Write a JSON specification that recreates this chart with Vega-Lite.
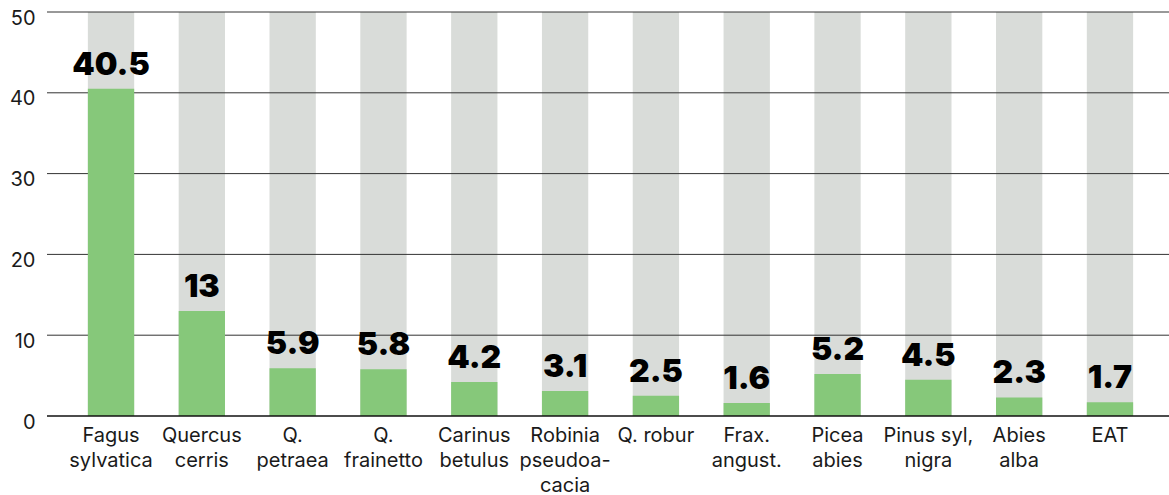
{
  "$schema": "https://vega.github.io/schema/vega-lite/v6.json",
  "autosize": {"type": "none"},
  "padding": {"left": 47, "top": 12, "right": 0, "bottom": 79},
  "width": 1127,
  "height": 404,
  "background": "white",
  "config": {"view": {"stroke": null}, "font": "Inter"},
  "data": {"values": [
    {"species": "Fagus|sylvatica", "value": 40.5, "label": "40.5", "full": 50},
    {"species": "Quercus|cerris", "value": 13, "label": "13", "full": 50},
    {"species": "Q.|petraea", "value": 5.9, "label": "5.9", "full": 50},
    {"species": "Q.|frainetto", "value": 5.8, "label": "5.8", "full": 50},
    {"species": "Carinus|betulus", "value": 4.2, "label": "4.2", "full": 50},
    {"species": "Robinia|pseudoa-|cacia", "value": 3.1, "label": "3.1", "full": 50},
    {"species": "Q. robur", "value": 2.5, "label": "2.5", "full": 50},
    {"species": "Frax.|angust.", "value": 1.6, "label": "1.6", "full": 50},
    {"species": "Picea|abies", "value": 5.2, "label": "5.2", "full": 50},
    {"species": "Pinus syl,|nigra", "value": 4.5, "label": "4.5", "full": 50},
    {"species": "Abies|alba", "value": 2.3, "label": "2.3", "full": 50},
    {"species": "EAT", "value": 1.7, "label": "1.7", "full": 50}
  ]},
  "encoding": {
    "x": {
      "field": "species", "type": "nominal", "sort": null,
      "scale": {"paddingInner": 0.49, "paddingOuter": 0.45},
      "axis": {
        "title": null, "labelAngle": 0, "ticks": false, "domain": false,
        "labelExpr": "split(datum.value, '|')",
        "labelFontSize": 20, "labelColor": "#1a1a1a", "labelFont": "Inter",
        "labelBaseline": "top", "labelPadding": 9, "labelLineHeight": 25
      }
    }
  },
  "layer": [
    {
      "mark": {"type": "bar", "color": "#d9dcd9"},
      "encoding": {
        "y": {
          "field": "full", "type": "quantitative",
          "scale": {"domain": [0, 50], "nice": false},
          "axis": {
            "title": null, "ticks": false, "domain": false, "grid": false,
            "values": [0, 10, 20, 30, 40, 50],
            "labelFontSize": 20, "labelColor": "#1a1a1a", "labelFont": "Inter",
            "labelPadding": 12, "labelBaseline": "top", "labelOffset": -4
          }
        }
      }
    },
    {
      "data": {"values": [{"g": 10}, {"g": 20}, {"g": 30}, {"g": 40}, {"g": 50}]},
      "mark": {"type": "rule", "color": "#333", "strokeWidth": 1},
      "encoding": {"x": null, "y": {"field": "g", "type": "quantitative"}}
    },
    {
      "mark": {"type": "bar", "color": "#86c87a"},
      "encoding": {"y": {"field": "value", "type": "quantitative"}}
    },
    {
      "data": {"values": [{"g": 0}]},
      "mark": {"type": "rule", "color": "#111", "strokeWidth": 1.5},
      "encoding": {"x": null, "y": {"field": "g", "type": "quantitative"}}
    },
    {
      "mark": {"type": "text", "font": "Inter", "fontWeight": 900, "fontSize": 32, "color": "#000", "baseline": "alphabetic", "dy": -14},
      "encoding": {
        "y": {"field": "value", "type": "quantitative"},
        "text": {"field": "label"}
      }
    }
  ]
}
